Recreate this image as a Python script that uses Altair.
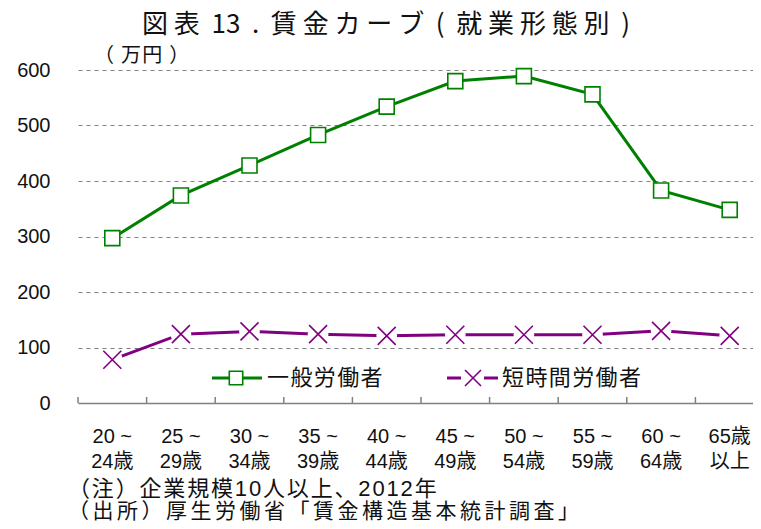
import altair as alt
import pandas as pd

# ---- data ----
age_line1 = ["20 ~", "25 ~", "30 ~", "35 ~", "40 ~", "45 ~", "50 ~", "55 ~", "60 ~", "65歳"]
age_line2 = ["24歳", "29歳", "34歳", "39歳", "44歳", "49歳", "54歳", "59歳", "64歳", "以上"]
general = [297, 374, 428, 483, 534, 580, 589, 556, 383, 348]
parttime = [78, 124, 129, 124, 121, 123, 123, 123, 130, 121]
series_names = ["一般労働者", "短時間労働者"]
series_colors = ["#008000", "#800080"]
y_ticks = [0, 100, 200, 300, 400, 500, 600]

NB = "\u00a0"
title_text = ("図 表  13  .  賃 金 カ ー ブ  (  就 業 形 態 別  )").replace(" ", NB)
unit_text = "（ 万円 ）"
note1 = "（注）企業規模10人以上、2012年"
note2 = "（出所）厚生労働省「賃金構造基本統計調査」"

# ---- layout ----
W, H = 675, 333
STEP = 68.6
XMAX = W / STEP - 0.5
JP = "Noto Sans CJK JP"
MIX = "Liberation Sans, Noto Sans CJK JP"
HS = "\u200a"
SS = "\u2006"

def spaced(s, sep=HS):
    return sep.join(list(s))

idx = list(range(len(general)))
df = pd.DataFrame({
    "idx": idx,
    "general": general,
    "parttime": parttime,
    "label": [a + "\n" + b for a, b in zip(age_line1, age_line2)],
})
ticks_df = pd.DataFrame({"b": [i - 0.5 for i in idx]})

xscale = alt.Scale(domain=[-0.5, XMAX], nice=False, zero=False)
yscale = alt.Scale(domain=[0, 600], nice=False, zero=True)

xenc = alt.X("idx:Q", scale=xscale,
             axis=alt.Axis(title=None, labels=False, ticks=False, grid=False,
                           domainColor="#808080", domainWidth=1.5, zindex=1))
yaxis = alt.Axis(title=None, values=y_ticks, grid=True, gridDash=[4, 4],
                 gridColor="#7f7f7f", gridWidth=1, domain=False, ticks=False,
                 tickSize=0, labelFont="Liberation Sans", labelFontSize=20,
                 labelColor="#111111", labelPadding=28)

base = alt.Chart(df)

g_line = base.mark_line(color=series_colors[0], strokeWidth=3).encode(
    x=xenc, y=alt.Y("general:Q", scale=yscale, axis=yaxis))
g_pts = base.mark_point(shape="square", filled=True, fill="white", stroke=series_colors[0],
                        strokeWidth=1.6, size=225, opacity=1).encode(
    x="idx:Q", y="general:Q")

p_line = base.mark_line(color=series_colors[1], strokeWidth=3).encode(
    x="idx:Q", y=alt.Y("parttime:Q"))
p_mask = base.mark_point(shape="circle", filled=True, color="white", size=430, opacity=1).encode(
    x="idx:Q", y="parttime:Q")
p_pts = base.mark_point(shape="M -1 -1 L 1 1 M -1 1 L 1 -1", filled=False,
                        stroke=series_colors[1], strokeWidth=1.6, size=324, opacity=1).encode(
    x="idx:Q", y="parttime:Q")

tick_rules = alt.Chart(ticks_df).mark_rule(color="#808080", strokeWidth=1.5).encode(
    x="b:Q", y=alt.value(H - 6), y2=alt.value(H))

x_labels = base.mark_text(lineBreak="\n", lineHeight=25, baseline="top", align="center",
                          font=MIX, fontSize=20, color="#111111").encode(
    x="idx:Q", y=alt.value(H + 24), text="label:N")

def txt(s, x, y, size, align="left", font=JP):
    return alt.Chart(pd.DataFrame({"t": [s]})).mark_text(
        align=align, baseline="middle", font=font, fontSize=size, color="#111111"
    ).encode(x=alt.value(x), y=alt.value(y), text="t:N")

title = txt(title_text, 308, -45, 26, align="center")
unit = txt(spaced(unit_text), 16, -14, 20)
fn1 = txt(spaced(note1), -10, 419, 22, font=MIX)
fn2 = txt(spaced(note2, SS), -10, 442, 21, font=MIX)

# legend (drawn by hand)
LY = 308
one = pd.DataFrame({"n": [0]})
leg_g_line = alt.Chart(one).mark_rule(color=series_colors[0], strokeWidth=3).encode(
    x=alt.value(134), x2=alt.value(184), y=alt.value(LY))
leg_g_pt = alt.Chart(one).mark_point(shape="square", filled=True, fill="white",
                                     stroke=series_colors[0], strokeWidth=1.6, size=180,
                                     opacity=1).encode(x=alt.value(158), y=alt.value(LY))
leg_p_line1 = alt.Chart(one).mark_rule(color=series_colors[1], strokeWidth=3).encode(
    x=alt.value(369), x2=alt.value(383), y=alt.value(LY))
leg_p_line2 = alt.Chart(one).mark_rule(color=series_colors[1], strokeWidth=3).encode(
    x=alt.value(406), x2=alt.value(420), y=alt.value(LY))
leg_p_pt = alt.Chart(one).mark_point(shape="M -1 -1 L 1 1 M -1 1 L 1 -1", filled=False,
                                     stroke=series_colors[1], strokeWidth=1.6, size=256,
                                     opacity=1).encode(x=alt.value(395), y=alt.value(LY))
leg_t1 = txt(spaced(series_names[0]), 189, LY, 22)
leg_t2 = txt(spaced(series_names[1]), 424, LY, 22)

chart = alt.layer(
    g_line, p_line, p_mask, g_pts, p_pts, tick_rules, x_labels,
    title, unit, fn1, fn2,
    leg_g_line, leg_g_pt, leg_p_line1, leg_p_line2, leg_p_pt, leg_t1, leg_t2,
).properties(
    width=W, height=H,
    padding={"left": 70, "top": 62, "right": 0, "bottom": 118},
    autosize=alt.AutoSizeParams(type="none"),
    background="white",
).configure_view(strokeWidth=0)

chart.save("out.html", embed_options={"renderer": "svg", "actions": False})
